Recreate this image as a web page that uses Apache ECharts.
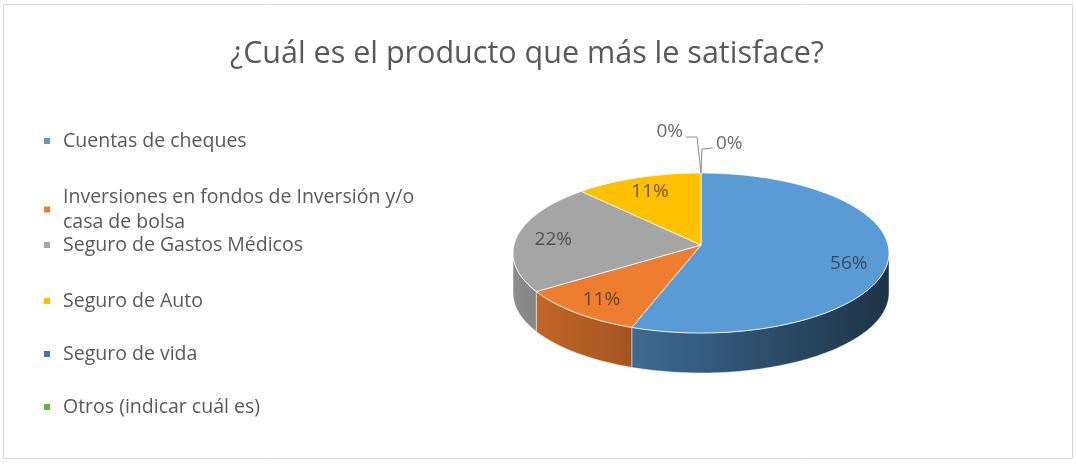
<!DOCTYPE html>
<html>
<head>
<meta charset="utf-8">
<script src="https://cdn.jsdelivr.net/npm/echarts@6/dist/echarts.min.js"></script>
<style>
html,body{margin:0;padding:0;background:#fff;}
#chart{width:1076px;height:464px;}
</style>
</head>
<body>
<div id="chart"></div>
<script>
const titleText = '¿Cuál es el producto que más le satisface?';
const categories = [
  'Cuentas de cheques',
  'Inversiones en fondos de Inversión y/o casa de bolsa',
  'Seguro de Gastos Médicos',
  'Seguro de Auto',
  'Seguro de vida',
  'Otros (indicar cuál es)'
];
const values = [56, 11, 22, 11, 0, 0];
const colors = ['#5B9BD5', '#ED7D31', '#A5A5A5', '#FFC000', '#4472C4', '#70AD47'];

// layout of the tilted pie (pixels)
const CX = 701, CY = 253, RX = 188, RY = 80, DEPTH = 40, APEX_DY = -8;
const FONT = '"Open Sans", "Noto Sans", sans-serif';

const total = values.reduce((s, v) => s + v, 0);

function pt(deg, dy) {
  const r = deg * Math.PI / 180;
  return [CX + RX * Math.sin(r), CY - RY * Math.cos(r) + (dy || 0)];
}
function arc(a0, a1, dy) {
  const n = Math.max(2, Math.ceil((a1 - a0) / 2));
  const pts = [];
  for (let k = 0; k <= n; k++) pts.push(pt(a0 + (a1 - a0) * k / n, dy));
  return pts;
}
function shade(hex, f) {
  const n = parseInt(hex.slice(1), 16);
  const r = Math.round(((n >> 16) & 255) * f), g = Math.round(((n >> 8) & 255) * f), b = Math.round((n & 255) * f);
  return 'rgb(' + r + ',' + g + ',' + b + ')';
}

function makeRender(i) {
  return function (params, api) {
    const v = api.value(0);
    let before = 0;
    for (let j = 0; j < i; j++) before += values[j];
    const a0 = before / total * 360, a1 = (before + v) / total * 360;
    const children = [];
    const color = colors[i];
    if (v > 0) {
      const s0 = Math.max(a0, 90), s1 = Math.min(a1, 270);
      if (s1 > s0) {
        const pts = arc(s0, s1, 0).concat(arc(s0, s1, DEPTH).reverse());
        children.push({
          type: 'polygon', z2: 1,
          shape: { points: pts },
          style: {
            fill: { type: 'linear', global: true, x: CX - RX, y: 0, x2: CX + RX, y2: 0,
              colorStops: [{ offset: 0, color: shade(color, 0.85) }, { offset: 1, color: shade(color, 0.33) }] },
            stroke: 'rgba(255,255,255,0.45)', lineWidth: 1
          }
        });
      }
      const apex = [CX, CY + APEX_DY];
      children.push({
        type: 'polygon', z2: 2,
        shape: { points: [apex].concat(arc(a0, a1, 0)) },
        style: { fill: color, stroke: 'rgba(255,255,255,0.75)', lineWidth: 1, lineJoin: 'round' }
      });
      const m = pt((a0 + a1) / 2);
      const f = 0.8;
      children.push({
        type: 'text', z2: 3,
        x: apex[0] + f * (m[0] - apex[0]), y: apex[1] + f * (m[1] - apex[1]),
        style: { text: Math.round(v / total * 100) + '%', fill: 'rgba(40,40,40,0.68)',
          font: '19px ' + FONT, align: 'center', verticalAlign: 'middle' }
      });
    } else {
      let zi = 0;
      for (let j = 0; j < i; j++) if (values[j] === 0) zi++;
      const [ax, ay] = pt(a0);
      let line, lp, align;
      if (zi % 2 === 0) {
        line = [[ax, ay], [ax - 2, ay - 18], [ax - 4, ay - 36], [ax - 15, ay - 36]];
        lp = [ax - 18, ay - 41]; align = 'right';
      } else {
        line = [[ax, ay], [ax + 1, ay - 24], [ax + 12, ay - 25]];
        lp = [ax + 15, ay - 29]; align = 'left';
      }
      children.push({ type: 'polyline', z2: 3, shape: { points: line },
        style: { stroke: '#8c8c8c', lineWidth: 1, fill: null } });
      children.push({ type: 'text', z2: 3, x: lp[0], y: lp[1],
        style: { text: Math.round(v / total * 100) + '%', fill: '#6a6a6a',
          font: '19px ' + FONT, align: align, verticalAlign: 'middle' } });
    }
    return { type: 'group', children: children };
  };
}

const legendCenters = [141, 209.5, 245, 301, 354, 407];
const LINE_H = 25;

const chart = echarts.init(document.getElementById('chart'), null, { renderer: 'canvas' });
chart.setOption({
  animation: false,
  backgroundColor: '#ffffff',
  title: {
    text: titleText,
    left: 527,
    textAlign: 'center',
    top: 34,
    padding: 0,
    textStyle: { fontFamily: FONT, fontSize: 30.5, fontWeight: 'normal', color: '#595959', lineHeight: 40 }
  },
  legend: categories.map((c, i) => ({
    data: [c],
    orient: 'vertical',
    left: 44,
    top: legendCenters[i] - (i === 1 ? LINE_H : LINE_H / 2),
    padding: 0,
    icon: 'rect',
    itemWidth: 6,
    itemHeight: 6,
    selectedMode: false,
    textStyle: { fontFamily: FONT, fontSize: 19.5, color: '#595959', lineHeight: LINE_H,
      width: 370, overflow: 'break', padding: [0, 0, 0, 8] }
  })),
  graphic: [{
    type: 'rect', z: -1,
    shape: { x: 3.5, y: 4.5, width: 1069, height: 454 },
    style: { fill: 'none', stroke: '#d9d9d9', lineWidth: 1 }
  }],
  series: categories.map((c, i) => ({
    type: 'custom',
    name: c,
    coordinateSystem: 'none',
    itemStyle: { color: colors[i] },
    silent: true,
    data: [[values[i]]],
    renderItem: makeRender(i)
  }))
});
</script>
</body>
</html>
